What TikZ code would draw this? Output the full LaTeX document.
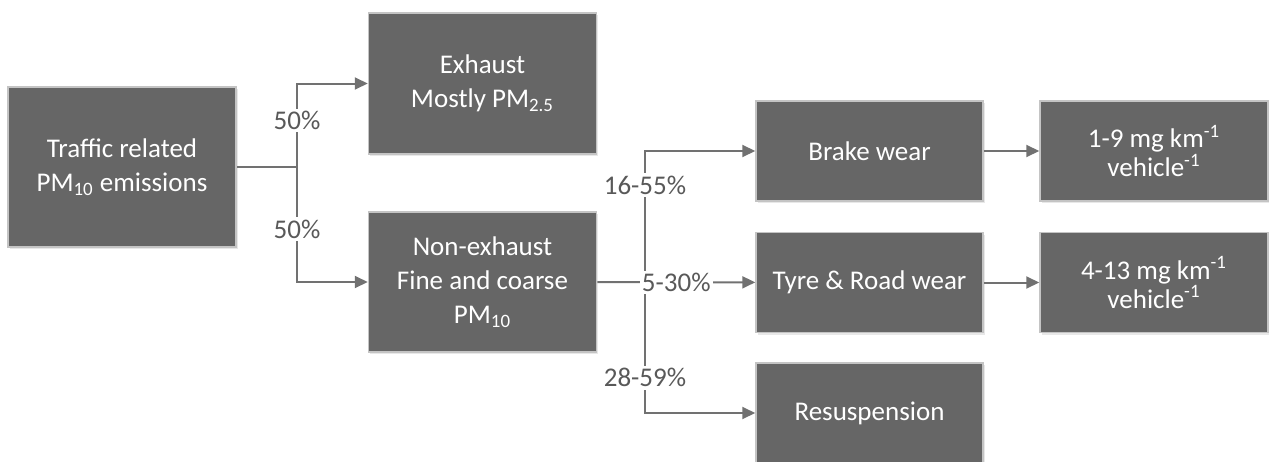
\documentclass[tikz,border=0pt]{standalone}
\usepackage{fontspec}
\setmainfont{Carlito}
\usepackage{xcolor}
\usetikzlibrary{arrows.meta}
\usetikzlibrary{positioning, shadows}

\definecolor{boxgray}{HTML}{666666}
\definecolor{rimgray}{HTML}{C4C4C4}
\definecolor{linegray}{HTML}{717171}
\definecolor{labelgray}{HTML}{595959}

\tikzset{
  flowbox/.style={rectangle, draw=rimgray, line width=0.75pt, fill=boxgray,
    text=white, align=center, inner sep=0pt, minimum width=114pt,
    font=\fontsize{13.5}{17}\selectfont,
    drop shadow={shadow xshift=0.8pt, shadow yshift=-1.2pt, opacity=0.18}},
  ratebox/.style={font=\fontsize{13.5}{12}\selectfont},
  pct/.style={fill=white, text=labelgray, inner sep=1.2pt,
    font=\fontsize{13.5}{16}\selectfont},
}

\begin{document}
\begin{tikzpicture}[x=0.5pt, y=-0.5pt]
\useasboundingbox (0,0) rectangle (1269,461);

\begin{scope}[every node/.style={flowbox}]
    \node[minimum height=80pt] (traffic) at (122,167) {Traffic related\\PM\textsubscript{10} emissions};
    \node[minimum height=70.5pt] (exhaust) at (482.5,83.5) {Exhaust\\Mostly PM\textsubscript{2.5}};
    \node[minimum height=70pt] (nonex) at (482.5,282) {Non-exhaust\\Fine and coarse\\PM\textsubscript{10}};
    \node[minimum width=113.5pt, minimum height=50pt] (brake) at (869.5,151) {Brake wear};
    \node[minimum width=113.5pt, minimum height=50pt] (tyre) at (869.5,282.5) {Tyre \& Road wear};
    \node[minimum width=113.5pt, minimum height=50pt] (resusp) at (869.5,413) {Resuspension};
    \node[ratebox, minimum width=114pt, minimum height=50pt] (brakerate) at (1154,151) {1-9 mg km\textsuperscript{-1}\\vehicle\textsuperscript{-1}};
    \node[ratebox, minimum width=114pt, minimum height=50pt] (tyrerate) at (1154,282.5) {4-13 mg km\textsuperscript{-1}\\vehicle\textsuperscript{-1}};
\end{scope}

\coordinate (split) at (297,167);
\coordinate (wear) at (645,282.5);

\begin{scope}[>={Triangle[length=6.5pt,width=6pt]},
              every path/.style={draw=linegray, line width=1pt}]
    \draw (traffic) -- (split);
    \draw [->] (split) |- node[pct, pos=0.28] {50\%} (exhaust);
    \draw [->] (split) |- node[pct, pos=0.27] {50\%} (nonex);
    \draw [->] (wear) |- node[pct, pos=0.37] {16-55\%} (brake);
    \draw [->] (wear) |- node[pct, pos=0.365] {28-59\%} (resusp);
    \draw [->] (nonex) -- node[pct] {5-30\%} (tyre);
    \draw [->] (brake) -- (brakerate);
    \draw [->] (tyre) -- (tyrerate);
\end{scope}
\end{tikzpicture}
\end{document}
